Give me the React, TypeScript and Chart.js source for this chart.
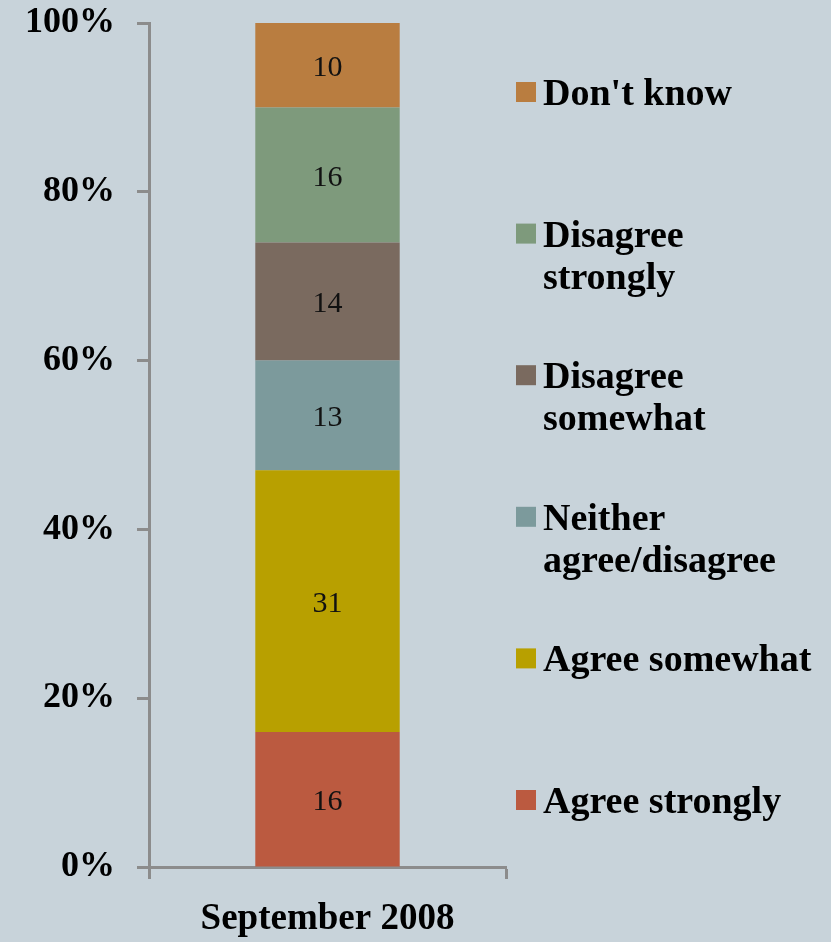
import React, { useEffect, useRef } from "react";
import { Chart, registerables } from "chart.js";

Chart.register(...registerables);

const categories = ["September 2008"];
const seriesNames = [
  "Agree strongly",
  "Agree somewhat",
  "Neither agree/disagree",
  "Disagree somewhat",
  "Disagree strongly",
  "Don't know",
];
const agreeStrongly = [16];
const agreeSomewhat = [31];
const neither = [13];
const disagreeSomewhat = [14];
const disagreeStrongly = [16];
const dontKnow = [10];
const seriesColors = ["#bb5a40", "#b8a000", "#7c9a9c", "#7a6a5f", "#7e9a7c", "#b97d40"];
// legend labels (top to bottom), with line breaks
const legendLines = [
  ["Don't know"],
  ["Disagree", "strongly"],
  ["Disagree", "somewhat"],
  ["Neither", "agree/disagree"],
  ["Agree somewhat"],
  ["Agree strongly"],
];
const yTicks = [0, 20, 40, 60, 80, 100];

const SERIF = "'Liberation Serif', 'Times New Roman', serif";

const valueLabels = {
  id: "valueLabels",
  afterDatasetsDraw(chart: any) {
    const ctx = chart.ctx;
    ctx.save();
    ctx.font = `30px ${SERIF}`;
    ctx.fillStyle = "#111";
    ctx.textAlign = "center";
    ctx.textBaseline = "middle";
    chart.data.datasets.forEach((ds: any, i: number) => {
      const meta = chart.getDatasetMeta(i);
      meta.data.forEach((el: any, j: number) => {
        const v = ds.data[j];
        const yc = (el.y + el.base) / 2;
        ctx.fillText(String(v), el.x, yc + 3);
      });
    });
    ctx.restore();
  },
};

const sideLegend = {
  id: "sideLegend",
  afterDraw(chart: any) {
    const ctx = chart.ctx;
    const area = chart.chartArea;
    const x0 = area.right + 10;
    const firstBase = area.top + 82;
    const step = 141.6;
    const lineH = 42;
    ctx.save();
    ctx.font = `bold 38px ${SERIF}`;
    ctx.fillStyle = "#000";
    ctx.textAlign = "left";
    ctx.textBaseline = "alphabetic";
    legendLines.forEach((lines, i) => {
      const base = firstBase + i * step;
      const color = seriesColors[seriesColors.length - 1 - i];
      ctx.fillStyle = color;
      ctx.fillRect(x0, base - 23, 20, 20);
      ctx.fillStyle = "#000";
      lines.forEach((t, k) => {
        ctx.fillText(t, x0 + 27, base + k * lineH);
      });
    });
    ctx.restore();
  },
};

export default function App() {
  const ref = useRef<HTMLCanvasElement>(null);
  useEffect(() => {
    if (!ref.current) return;
    const dataArrays = [agreeStrongly, agreeSomewhat, neither, disagreeSomewhat, disagreeStrongly, dontKnow];
    const chart = new Chart(ref.current, {
      type: "bar",
      data: {
        labels: categories,
        datasets: dataArrays.map((d, i) => ({
          label: seriesNames[i],
          data: d,
          backgroundColor: seriesColors[i],
          borderWidth: 0,
          barPercentage: 1,
          categoryPercentage: 0.4045,
        })),
      },
      options: {
        animation: false,
        responsive: true,
        maintainAspectRatio: false,
        layout: { padding: { top: 23, right: 325, left: 0, bottom: 0 } },
        plugins: {
          legend: { display: false },
          tooltip: { enabled: false },
          title: { display: false },
        },
        scales: {
          x: {
            stacked: true,
            offset: true,
            grid: {
              offset: true,
              drawOnChartArea: false,
              drawTicks: true,
              tickLength: 12,
              tickWidth: 3,
              tickColor: "#8c8c8c",
              color: "#8c8c8c",
            },
            border: { display: true, color: "#8c8c8c", width: 3 },
            ticks: {
              color: "#000",
              font: { family: SERIF, size: 37, weight: "bold" },
              padding: 18,
            },
            afterFit(scale: any) {
              scale.height = 75;
              scale.paddingLeft = 0;
              scale.paddingRight = 0;
            },
          },
          y: {
            stacked: true,
            min: 0,
            max: 100,
            afterBuildTicks(scale: any) {
              scale.ticks = yTicks.map((v) => ({ value: v }));
            },
            grid: {
              drawOnChartArea: false,
              drawTicks: true,
              tickLength: 12,
              tickWidth: 3,
              tickColor: "#8c8c8c",
              color: "#8c8c8c",
            },
            border: { display: true, color: "#8c8c8c", width: 3 },
            ticks: {
              color: "#000",
              font: { family: SERIF, size: 36, weight: "bold" },
              padding: 22,
              callback: (v: any) => `${v}%`,
            },
            afterFit(scale: any) {
              scale.width = 149;
              scale.paddingTop = 0;
              scale.paddingBottom = 0;
            },
          },
        },
      },
      plugins: [valueLabels, sideLegend],
    } as any);
    return () => chart.destroy();
  }, []);
  return (
    <div
      style={{
        position: "absolute",
        left: 0,
        top: 0,
        width: 831,
        height: 942,
        background: "#c8d3da",
      }}
    >
      <canvas ref={ref} />
    </div>
  );
}
